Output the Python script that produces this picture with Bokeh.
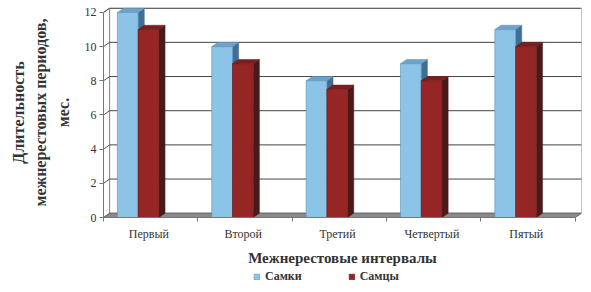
from bokeh.plotting import figure
from bokeh.layouts import column
from bokeh.models import FixedTicker, Legend, LegendItem
from bokeh.embed import file_html
from bokeh.resources import INLINE

# ---- data ----
categories = ["Первый", "Второй", "Третий", "Четвертый", "Пятый"]
females = [12, 10, 8, 9, 11]
males = [11, 9, 7.5, 8, 10]
series_names = ["Самки", "Самцы"]
y_ticks = [0, 2, 4, 6, 8, 10, 12]

# ---- geometry / style ----
n = len(categories)
DX = 0.065     # 3D depth offset in category units
DY = 0.25      # 3D depth offset in value units
YMAX = 12
BAR_W = 0.22
OFFS = [0.147, 0.147 + BAR_W]

front_cols = ["#8cc4e8", "#962626"]
top_cols = ["#6fa3cc", "#7a1f1f"]
side_cols = ["#3f6f95", "#4a1a1a"]
edge_cols = ["#5a8fb8", "#6a1a1a"]
serif = "Liberation Serif"

p = figure(width=583, height=268, x_range=(0, n + DX), y_range=(0, YMAX + DY + 0.04),
           output_backend="svg", toolbar_location=None,
           min_border_top=7, min_border_right=2, min_border_left=103, min_border_bottom=50)
p.outline_line_color = None
p.xgrid.visible = False
p.ygrid.visible = False

# walls
p.patch([0, 0, DX, DX], [0, YMAX, YMAX + DY, DY], fill_color="white",
        line_color="#8a8a8a", line_width=1)
p.patch([DX, n + DX, n + DX, DX], [DY, DY, YMAX + DY, YMAX + DY], fill_color="white",
        line_color="#8a8a8a", line_width=1)

# grid lines on side and back walls
gk = [t for t in y_ticks if t > 0]
p.segment(x0=[0] * len(gk), y0=gk, x1=[DX] * len(gk), y1=[k + DY for k in gk],
          line_color="#555555", line_width=1)
p.segment(x0=[DX] * len(gk), y0=[k + DY for k in gk], x1=[n + DX] * len(gk),
          y1=[k + DY for k in gk], line_color="#444444", line_width=1)

# floor
p.patch([0, n, n + DX, DX], [0, 0, DY, DY], fill_color="#8a8a8a",
        line_color="#666666", line_width=1)

# bars (3D)
for s, vals in enumerate([females, males]):
    lefts = [i + OFFS[s] for i in range(n)]
    rights = [l + BAR_W for l in lefts]
    xs_side = [[r, r + DX, r + DX, r] for r in rights]
    ys_side = [[0, DY, v + DY, v] for v in vals]
    p.patches(xs_side, ys_side, fill_color=side_cols[s], line_color=side_cols[s], line_width=0.5)
    xs_top = [[l, r, r + DX, l + DX] for l, r in zip(lefts, rights)]
    ys_top = [[v, v, v + DY, v + DY] for v in vals]
    p.patches(xs_top, ys_top, fill_color=top_cols[s], line_color=edge_cols[s], line_width=0.5)
    p.quad(left=lefts, right=rights, bottom=[0] * n, top=vals,
           fill_color=front_cols[s], line_color=edge_cols[s], line_width=0.6)

# axes
p.yaxis.ticker = FixedTicker(ticks=y_ticks)
p.yaxis.bounds = (0, YMAX)
p.yaxis.axis_line_color = "#777777"
p.yaxis.major_tick_line_color = "#777777"
p.yaxis.major_tick_out = 4
p.yaxis.major_tick_in = 0
p.yaxis.minor_tick_line_color = None
p.yaxis.major_label_text_font = serif
p.yaxis.major_label_text_font_size = "12px"
p.yaxis.major_label_text_color = "#333333"
p.yaxis.major_label_standoff = 3
p.yaxis.axis_label = "Длительность\nмежнерестовых периодов,\nмес."
p.yaxis.axis_label_text_font = serif
p.yaxis.axis_label_text_font_style = "bold"
p.yaxis.axis_label_text_font_size = "16px"
p.yaxis.axis_label_text_line_height = 1.3
p.yaxis.axis_label_text_color = "#333333"
p.yaxis.axis_label_standoff = 10

centers = [i + 0.48 for i in range(n)]
p.xaxis.ticker = FixedTicker(ticks=centers, minor_ticks=list(range(n + 1)))
p.xaxis.major_label_overrides = {c: lab for c, lab in zip(centers, categories)}
p.xaxis.bounds = (0, n)
p.xaxis.axis_line_color = "#777777"
p.xaxis.major_tick_line_color = None
p.xaxis.minor_tick_line_color = "#777777"
p.xaxis.minor_tick_out = 4
p.xaxis.minor_tick_in = 0
p.xaxis.major_tick_out = 4
p.xaxis.major_label_text_font = serif
p.xaxis.major_label_text_font_size = "12px"
p.xaxis.major_label_text_color = "#333333"
p.xaxis.major_label_standoff = 5
p.xaxis.axis_label = "Межнерестовые интервалы"
p.xaxis.axis_label_text_font = serif
p.xaxis.axis_label_text_font_style = "bold"
p.xaxis.axis_label_text_font_size = "15px"
p.xaxis.axis_label_text_color = "#333333"
p.xaxis.axis_label_standoff = 6

# legend strip (proxy swatches lie outside the visible range)
lf = figure(width=583, height=16, x_range=(0, 1), y_range=(0, 1),
            output_backend="svg", toolbar_location=None, min_border=0,
            x_axis_location=None, y_axis_location=None)
lf.grid.visible = False
lf.outline_line_color = None
leg_rs = [lf.quad(left=[-3], right=[-2], bottom=[-3], top=[-2], fill_color=front_cols[s],
                  line_color=edge_cols[s], line_width=0.6) for s in range(2)]
legend = Legend(items=[LegendItem(label=series_names[i], renderers=[leg_rs[i]]) for i in range(2)],
                orientation="horizontal", location=(150, 0))
legend.border_line_color = None
legend.background_fill_alpha = 0
legend.label_text_font = serif
legend.label_text_font_style = "bold"
legend.label_text_font_size = "12px"
legend.label_text_color = "#333333"
legend.glyph_width = 7
legend.glyph_height = 7
legend.label_standoff = 5
legend.spacing = 46
legend.padding = 1
legend.margin = 0
legend.label_height = 12
lf.add_layout(legend)

open("out.html", "w").write(file_html(column(p, lf, spacing=0), INLINE))
